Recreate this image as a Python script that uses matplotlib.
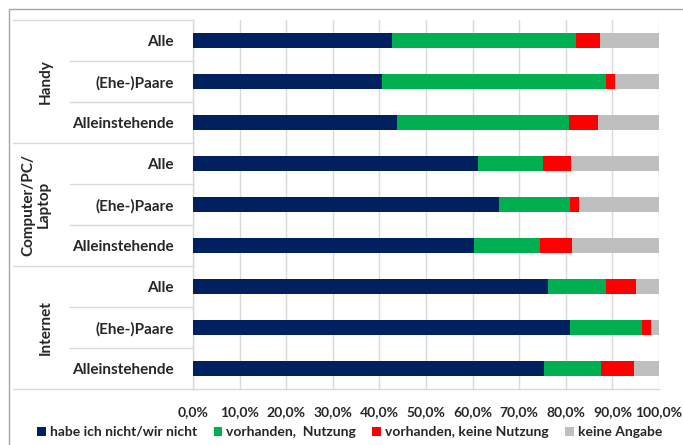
import matplotlib
matplotlib.use("Agg")
import matplotlib.pyplot as plt
from matplotlib.patches import Rectangle
from matplotlib.ticker import FuncFormatter

plt.rcParams['font.family'] = ['Lato', 'DejaVu Sans']

groups = ["Handy", "Computer/PC/\nLaptop", "Internet"]
categories = ["Alle", "(Ehe-)Paare", "Alleinstehende"] * 3
series_names = ["habe ich nicht/wir nicht", "vorhanden,  Nutzung",
                "vorhanden, keine Nutzung", "keine Angabe"]
nicht = [42.8, 40.5, 43.8, 61.1, 65.6, 60.2, 76.1, 80.9, 75.3]
nutzung = [39.4, 48.1, 36.9, 13.9, 15.3, 14.2, 12.5, 15.4, 12.2]
keine_nutzung = [5.2, 2.0, 6.3, 6.1, 2.0, 6.9, 6.4, 1.9, 7.2]
keine_angabe = [12.6, 9.4, 13.0, 18.9, 17.1, 18.7, 5.0, 1.8, 5.3]
colors = ["#002060", "#00B050", "#FF0000", "#BFBFBF"]
xticks = list(range(0, 101, 10))

W, H = 683, 445
fig = plt.figure(figsize=(W / 100, H / 100), dpi=100)
x0, x1, y0, y1 = 193, 659, 20, 389
ax = fig.add_axes([x0 / W, 1 - y1 / H, (x1 - x0) / W, (y1 - y0) / H])

# outer frame
fig.patches.append(Rectangle((9 / W, -0.05), 1.1, 1 - 9 / H + 0.05,
                             transform=fig.transFigure, fill=False,
                             edgecolor="#A6A6A6", linewidth=1.0))

ypos = list(range(len(categories)))
left = [0.0] * len(categories)
for vals, name, col in zip([nicht, nutzung, keine_nutzung, keine_angabe],
                           series_names, colors):
    ax.barh(ypos, vals, left=left, height=0.39, color=col, label=name, zorder=3)
    left = [l + v for l, v in zip(left, vals)]

ax.set_xlim(0, 100)
ax.set_ylim(len(categories) - 0.5, -0.5)
ax.set_xticks(xticks)
ax.xaxis.set_major_formatter(FuncFormatter(lambda v, p: f"{v:.1f}%".replace(".", ",")))
ax.tick_params(axis="x", length=0, pad=12, labelsize=10, colors="#262626")
for lbl in ax.get_xticklabels():
    lbl.set_fontweight("bold")
ax.set_yticks(ypos)
ax.set_yticklabels(categories, fontsize=11, fontweight="bold", color="#262626")
ax.tick_params(axis="y", length=0, pad=14)
ax.grid(axis="x", color="#D9D9D9", linewidth=1.0, zorder=0)
for s in ax.spines.values():
    s.set_visible(False)

line_kw = dict(color="#D9D9D9", linewidth=1.0, clip_on=False,
               transform=ax.transData)
gx = (13 - x0) / (x1 - x0) * 100
cx = (70 - x0) / (x1 - x0) * 100
# horizontal separators left of the plot
for b in range(len(categories) + 1):
    yb = b - 0.5
    if b % 3 == 0:
        xe = 100 if b == len(categories) else 0
        ax.plot([gx, xe], [yb, yb], **line_kw)
    else:
        ax.plot([cx, 0], [yb, yb], **line_kw)
ax.plot([0, 0], [-0.5, len(categories) - 0.5], **line_kw)

# group labels
gxpos = [46, 36, 46]
for i, (g, px) in enumerate(zip(groups, gxpos)):
    ax.text((px - x0) / (x1 - x0) * 100, 3 * i + 1, g, rotation=90,
            ha="center", va="center", fontsize=11, fontweight="bold",
            color="#262626", clip_on=False, linespacing=1.1)

fig.legend(loc="center", bbox_to_anchor=(0.512, 1 - 432 / H), ncol=4,
           frameon=False, handlelength=0.6, handleheight=0.6,
           handletextpad=0.3, columnspacing=1.2,
           prop={"size": 10, "weight": "bold"}, labelcolor="#262626")

fig.savefig("out.png", dpi=100)
